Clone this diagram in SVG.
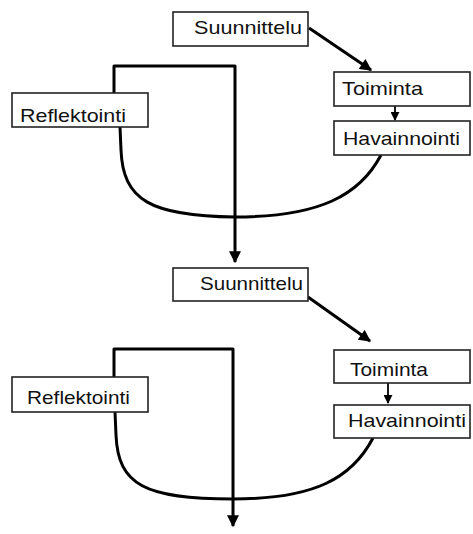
<svg xmlns="http://www.w3.org/2000/svg" width="473" height="534" viewBox="0 0 473 534">
<defs>
<style>
.box{fill:#fff;stroke:#222;stroke-width:1.6}
.lbl{font-family:"Liberation Sans",Arial,sans-serif;font-size:19px;fill:#111}
.ln{fill:none;stroke:#000;stroke-width:3;stroke-linejoin:round}
.sm{fill:none;stroke:#000;stroke-width:1.8}
</style>
<marker id="ah" viewBox="0 0 10 10" refX="9" refY="5" markerWidth="4.5" markerHeight="4" orient="auto" markerUnits="strokeWidth">
<path d="M0,0 L10,5 L0,10 z" fill="#000"/>
</marker>
<marker id="ahs" viewBox="0 0 10 10" refX="9" refY="5" markerWidth="5" markerHeight="5" orient="auto" markerUnits="strokeWidth">
<path d="M0,0 L10,5 L0,10 z" fill="#000"/>
</marker>
</defs>
<rect width="473" height="534" fill="#fff"/>
<g id="connectors">
<path class="ln" d="M114,93 L114,66 L235,66 L235,262" marker-end="url(#ah)"/>
<path class="ln" d="M120,127 L121,150 C123,200 150,216 235,217 C320,217 360,195 381,155"/>
<path class="ln" d="M309,28 L371,70" marker-end="url(#ah)"/>
<path class="sm" d="M395,106 L395,120" marker-end="url(#ahs)"/>
<path class="ln" d="M114,377 L114,349 L233,349 L233,526" marker-end="url(#ah)"/>
<path class="ln" d="M115,412 L116,435 C118,485 145,499 233,499 C315,499 352,478 373,438"/>
<path class="ln" d="M308,297 L370,341" marker-end="url(#ah)"/>
<path class="sm" d="M388,383 L388,403" marker-end="url(#ahs)"/>
</g>
<g id="suunnittelu1"><rect class="box" x="173" y="12" width="135" height="34"/><text class="lbl" x="194" y="34" textLength="108" lengthAdjust="spacingAndGlyphs">Suunnittelu</text></g>
<g id="toiminta1"><rect class="box" x="334" y="72" width="136" height="34"/><text class="lbl" x="342" y="95" textLength="81" lengthAdjust="spacingAndGlyphs">Toiminta</text></g>
<g id="havainnointi1"><rect class="box" x="334" y="121" width="136" height="34"/><text class="lbl" x="343" y="145" textLength="117" lengthAdjust="spacingAndGlyphs">Havainnointi</text></g>
<g id="reflektointi1"><rect class="box" x="12" y="93" width="136" height="34"/><text class="lbl" x="20" y="122" textLength="106" lengthAdjust="spacingAndGlyphs">Reflektointi</text></g>
<g id="suunnittelu2"><rect class="box" x="173" y="268" width="135" height="33"/><text class="lbl" x="200" y="290" textLength="103" lengthAdjust="spacingAndGlyphs">Suunnittelu</text></g>
<g id="toiminta2"><rect class="box" x="334" y="350" width="136" height="33"/><text class="lbl" x="350" y="376" textLength="78" lengthAdjust="spacingAndGlyphs">Toiminta</text></g>
<g id="havainnointi2"><rect class="box" x="334" y="405" width="136" height="33"/><text class="lbl" x="348" y="427" textLength="118" lengthAdjust="spacingAndGlyphs">Havainnointi</text></g>
<g id="reflektointi2"><rect class="box" x="12" y="377" width="136" height="35"/><text class="lbl" x="27" y="404" textLength="103" lengthAdjust="spacingAndGlyphs">Reflektointi</text></g>
</svg>
